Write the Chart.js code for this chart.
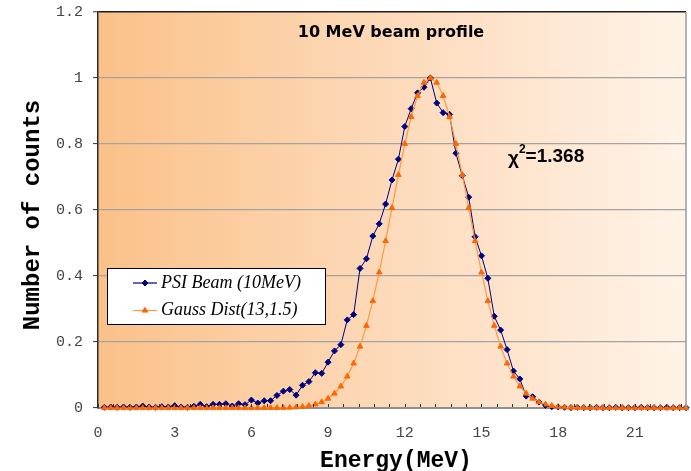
<!DOCTYPE html>
<html>
<head>
<meta charset="utf-8">
<script src="https://cdn.jsdelivr.net/npm/chart.js@4/dist/chart.umd.min.js"></script>
<style>
  html, body { margin: 0; padding: 0; background: #ffffff; }
  #wrap { width: 691px; height: 471px; }
</style>
</head>
<body>
<div id="wrap"><canvas id="c" width="691" height="471"></canvas></div>
<script>
// Energy bins (MeV)
const energy = [
  0.25, 0.5, 0.75, 1.0, 1.25, 1.5, 1.75, 2.0, 2.25, 2.5, 2.75, 3.0,
  3.25, 3.5, 3.75, 4.0, 4.25, 4.5, 4.75, 5.0, 5.25, 5.5, 5.75, 6.0,
  6.25, 6.5, 6.75, 7.0, 7.25, 7.5, 7.75, 8.0, 8.25, 8.5, 8.75, 9.0,
  9.25, 9.5, 9.75, 10.0, 10.25, 10.5, 10.75, 11.0, 11.25, 11.5, 11.75, 12.0,
  12.25, 12.5, 12.75, 13.0, 13.25, 13.5, 13.75, 14.0, 14.25, 14.5, 14.75, 15.0,
  15.25, 15.5, 15.75, 16.0, 16.25, 16.5, 16.75, 17.0, 17.25, 17.5, 17.75, 18.0,
  18.25, 18.5, 18.75, 19.0, 19.25, 19.5, 19.75, 20.0, 20.25, 20.5, 20.75, 21.0,
  21.25, 21.5, 21.75, 22.0, 22.25, 22.5, 22.75, 23.0
];

// Measured beam profile, normalised counts
const psiBeam = [
  0.002, 0.003, 0.002, 0.003, 0.002, 0.003, 0.006, 0.003, 0.002, 0.004, 0.003, 0.007,
  0.003, 0.002, 0.005, 0.011, 0.004, 0.011, 0.011, 0.013, 0.006, 0.013, 0.010, 0.024,
  0.015, 0.022, 0.022, 0.038, 0.051, 0.056, 0.039, 0.069, 0.080, 0.107, 0.105, 0.139,
  0.173, 0.192, 0.267, 0.283, 0.423, 0.452, 0.521, 0.558, 0.618, 0.691, 0.754, 0.853,
  0.907, 0.955, 0.972, 1.000, 0.924, 0.895, 0.890, 0.772, 0.704, 0.639, 0.519, 0.461,
  0.393, 0.278, 0.236, 0.177, 0.112, 0.088, 0.036, 0.034, 0.018, 0.008, 0.004, 0.003,
  0.002, 0.001, 0.002, 0.001, 0.001, 0.002, 0.001, 0.001, 0.002, 0.001, 0.001, 0.001,
  0.002, 0.001, 0.001, 0.001, 0.002, 0.001, 0.001, 0.001
];

// Reference Gaussian (mean 13 MeV, sigma 1.5 MeV), normalised
const gaussDist = [
  0, 0, 0, 0, 0, 0, 0, 0, 0, 0, 0, 0,
  0, 0, 0, 0, 0, 0, 0, 0, 0, 0, 0, 0,
  0, 0.0001, 0.0002, 0.0003, 0.0006, 0.0012, 0.0022, 0.0039, 0.0066, 0.0111, 0.0181, 0.0286,
  0.0439, 0.0657, 0.0956, 0.1353, 0.1863, 0.2494, 0.3247, 0.4111, 0.5063, 0.6065, 0.7066, 0.8007,
  0.8825, 0.9460, 0.9862, 1.0000, 0.9862, 0.9460, 0.8825, 0.8007, 0.7066, 0.6065, 0.5063, 0.4111,
  0.3247, 0.2494, 0.1863, 0.1353, 0.0956, 0.0657, 0.0439, 0.0286, 0.0181, 0.0111, 0.0066, 0.0039,
  0.0022, 0.0012, 0.0006, 0.0003, 0.0002, 0.0001, 0, 0, 0, 0, 0, 0,
  0, 0, 0, 0, 0, 0, 0, 0
];

const seriesNames = ['PSI Beam (10MeV)', 'Gauss Dist(13,1.5)'];
const xTickValues = [0, 3, 6, 9, 12, 15, 18, 21];
const yTickValues = [0, 0.2, 0.4, 0.6, 0.8, 1, 1.2];
const xMinorStep = 0.6;
const chartTitle = '10 MeV beam profile';
const chiLabel = ['\u03C7', '2', '=1.368'];
const xAxisTitle = 'Energy(MeV)';
const yAxisTitle = 'Number of counts';

const toPoints = (vals) => energy.map((e, i) => ({ x: e, y: vals[i] }));

const NAVY = '#000080';
const ORANGE = '#FF6600';
const ORANGE_LINE = '#FF9A40';

const decor = {
  id: 'decor',
  beforeDraw(chart) {
    const { ctx, chartArea: a } = chart;
    const g = ctx.createLinearGradient(a.left, 0, a.right, 0);
    g.addColorStop(0, '#FAC189');
    g.addColorStop(0.5, '#FDDABA');
    g.addColorStop(1, '#FFF3E8');
    ctx.save();
    ctx.fillStyle = g;
    ctx.fillRect(a.left, a.top, a.right - a.left, a.bottom - a.top);
    ctx.restore();
  },
  afterDatasetsDraw(chart) {
    const { ctx, chartArea: a, scales } = chart;
    const xs = scales.x;
    ctx.save();
    // right frame edge
    ctx.strokeStyle = '#9a9a9a';
    ctx.lineWidth = 1.5;
    ctx.beginPath();
    ctx.moveTo(a.right, a.top);
    ctx.lineTo(a.right, a.bottom);
    ctx.stroke();
    // small inward tick marks along the energy axis
    ctx.strokeStyle = '#333';
    ctx.lineWidth = 1;
    for (let v = 0; v <= xs.max + 1e-9; v += xMinorStep) {
      const px = Math.round(xs.getPixelForValue(v)) + 0.5;
      ctx.beginPath();
      ctx.moveTo(px, a.bottom - 1);
      ctx.lineTo(px, a.bottom - 4);
      ctx.stroke();
    }
    ctx.restore();
  },
  afterDraw(chart) {
    const { ctx } = chart;
    ctx.save();
    ctx.fillStyle = '#000';
    ctx.textBaseline = 'middle';

    // title inside plot
    ctx.font = 'bold 16px "DejaVu Sans"';
    ctx.textAlign = 'center';
    ctx.fillText(chartTitle, 391, 33);

    // chi-square annotation
    ctx.textAlign = 'left';
    ctx.font = 'bold 19px "Liberation Sans"';
    let cx = 508;
    ctx.fillText(chiLabel[0], cx, 159);
    cx += ctx.measureText(chiLabel[0]).width;
    ctx.font = 'bold 12px "Liberation Sans"';
    ctx.fillText(chiLabel[1], cx, 150);
    cx += ctx.measureText(chiLabel[1]).width;
    ctx.font = 'bold 19px "Liberation Sans"';
    ctx.fillText(chiLabel[2], cx, 157);

    // axis titles
    ctx.textAlign = 'center';
    ctx.font = 'bold 23px "Liberation Mono"';
    ctx.fillText(xAxisTitle, 396, 461);
    ctx.save();
    ctx.font = 'bold 24px "Liberation Mono"';
    ctx.translate(33, 215);
    ctx.rotate(-Math.PI / 2);
    ctx.fillText(yAxisTitle, 0, 0);
    ctx.restore();

    // legend box
    const bx = 107.5, by = 268.5, bw = 218, bh = 56;
    ctx.fillStyle = '#ffffff';
    ctx.fillRect(bx, by, bw, bh);
    ctx.strokeStyle = '#000';
    ctx.lineWidth = 1;
    ctx.strokeRect(bx, by, bw, bh);

    // legend entries drawn with each series' own styles
    const rows = [283, 310.5];
    chart.data.datasets.forEach((ds, i) => {
      const y = rows[i];
      ctx.strokeStyle = ds.borderColor;
      ctx.lineWidth = 1.2;
      ctx.beginPath();
      ctx.moveTo(133, y);
      ctx.lineTo(157, y);
      ctx.stroke();
      ctx.fillStyle = ds.pointBackgroundColor;
      ctx.strokeStyle = ds.pointBorderColor;
      ctx.lineWidth = 1;
      Chart.helpers.drawPoint(ctx, {
        pointStyle: ds.pointStyle,
        radius: ds.pointRadius,
        borderWidth: 1,
        rotation: 0
      }, 145, y);
      ctx.fillStyle = '#000';
      ctx.font = 'italic 18px "Liberation Serif"';
      ctx.textAlign = 'left';
      ctx.textBaseline = 'middle';
      ctx.fillText(ds.label, 161, y);
    });
    ctx.restore();
  }
};

new Chart(document.getElementById('c'), {
  type: 'line',
  data: {
    datasets: [
      {
        label: seriesNames[0],
        data: toPoints(psiBeam),
        borderColor: NAVY,
        borderWidth: 1,
        pointStyle: 'rectRot',
        pointRadius: 3,
        pointBackgroundColor: NAVY,
        pointBorderColor: NAVY,
        pointBorderWidth: 1,
        tension: 0,
        clip: false,
        order: 1
      },
      {
        label: seriesNames[1],
        data: toPoints(gaussDist),
        borderColor: ORANGE_LINE,
        borderWidth: 1.2,
        pointStyle: 'triangle',
        pointRadius: 3.2,
        pointBackgroundColor: ORANGE,
        pointBorderColor: ORANGE,
        pointBorderWidth: 1,
        tension: 0,
        clip: false,
        order: 0
      }
    ]
  },
  options: {
    responsive: false,
    animation: false,
    devicePixelRatio: 1,
    layout: { padding: { left: 0, top: 12, right: 5, bottom: 0 } },
    plugins: { legend: { display: false }, tooltip: { enabled: false }, title: { display: false } },
    scales: {
      x: {
        type: 'linear',
        min: 0,
        max: 23,
        afterFit(s) { s.height = 63; s.paddingLeft = 0; s.paddingRight = 0; },
        afterBuildTicks(s) { s.ticks = xTickValues.map(v => ({ value: v })); },
        ticks: {
          padding: 16,
          color: '#444',
          font: { family: 'Liberation Mono', size: 15 },
          maxRotation: 0,
          autoSkip: false,
          callback: (v) => String(v)
        },
        grid: { display: false, drawTicks: false },
        border: { display: true, color: '#8f8f8f', width: 2 }
      },
      y: {
        type: 'linear',
        min: 0,
        max: 1.2,
        afterFit(s) { s.width = 98; s.paddingTop = 0; s.paddingBottom = 0; },
        afterBuildTicks(s) { s.ticks = yTickValues.map(v => ({ value: v })); },
        ticks: {
          padding: 10,
          color: '#444',
          font: { family: 'Liberation Mono', size: 15 },
          callback: (v) => String(v)
        },
        grid: {
          color: (c) => {
            const v = c.tick ? c.tick.value : 0;
            if (v === 0) return 'rgba(0,0,0,0)';
            if (v >= 1.19) return '#1e1e1e';
            return '#a3a3a3';
          },
          lineWidth: (c) => (c.tick && c.tick.value >= 1.19 ? 1.5 : 1.2),
          drawTicks: true,
          tickLength: 5,
          tickColor: '#333',
          tickWidth: 1
        },
        border: { display: true, color: '#2a2a2a', width: 1.5 }
      }
    }
  },
  plugins: [decor]
});
</script>
</body>
</html>
